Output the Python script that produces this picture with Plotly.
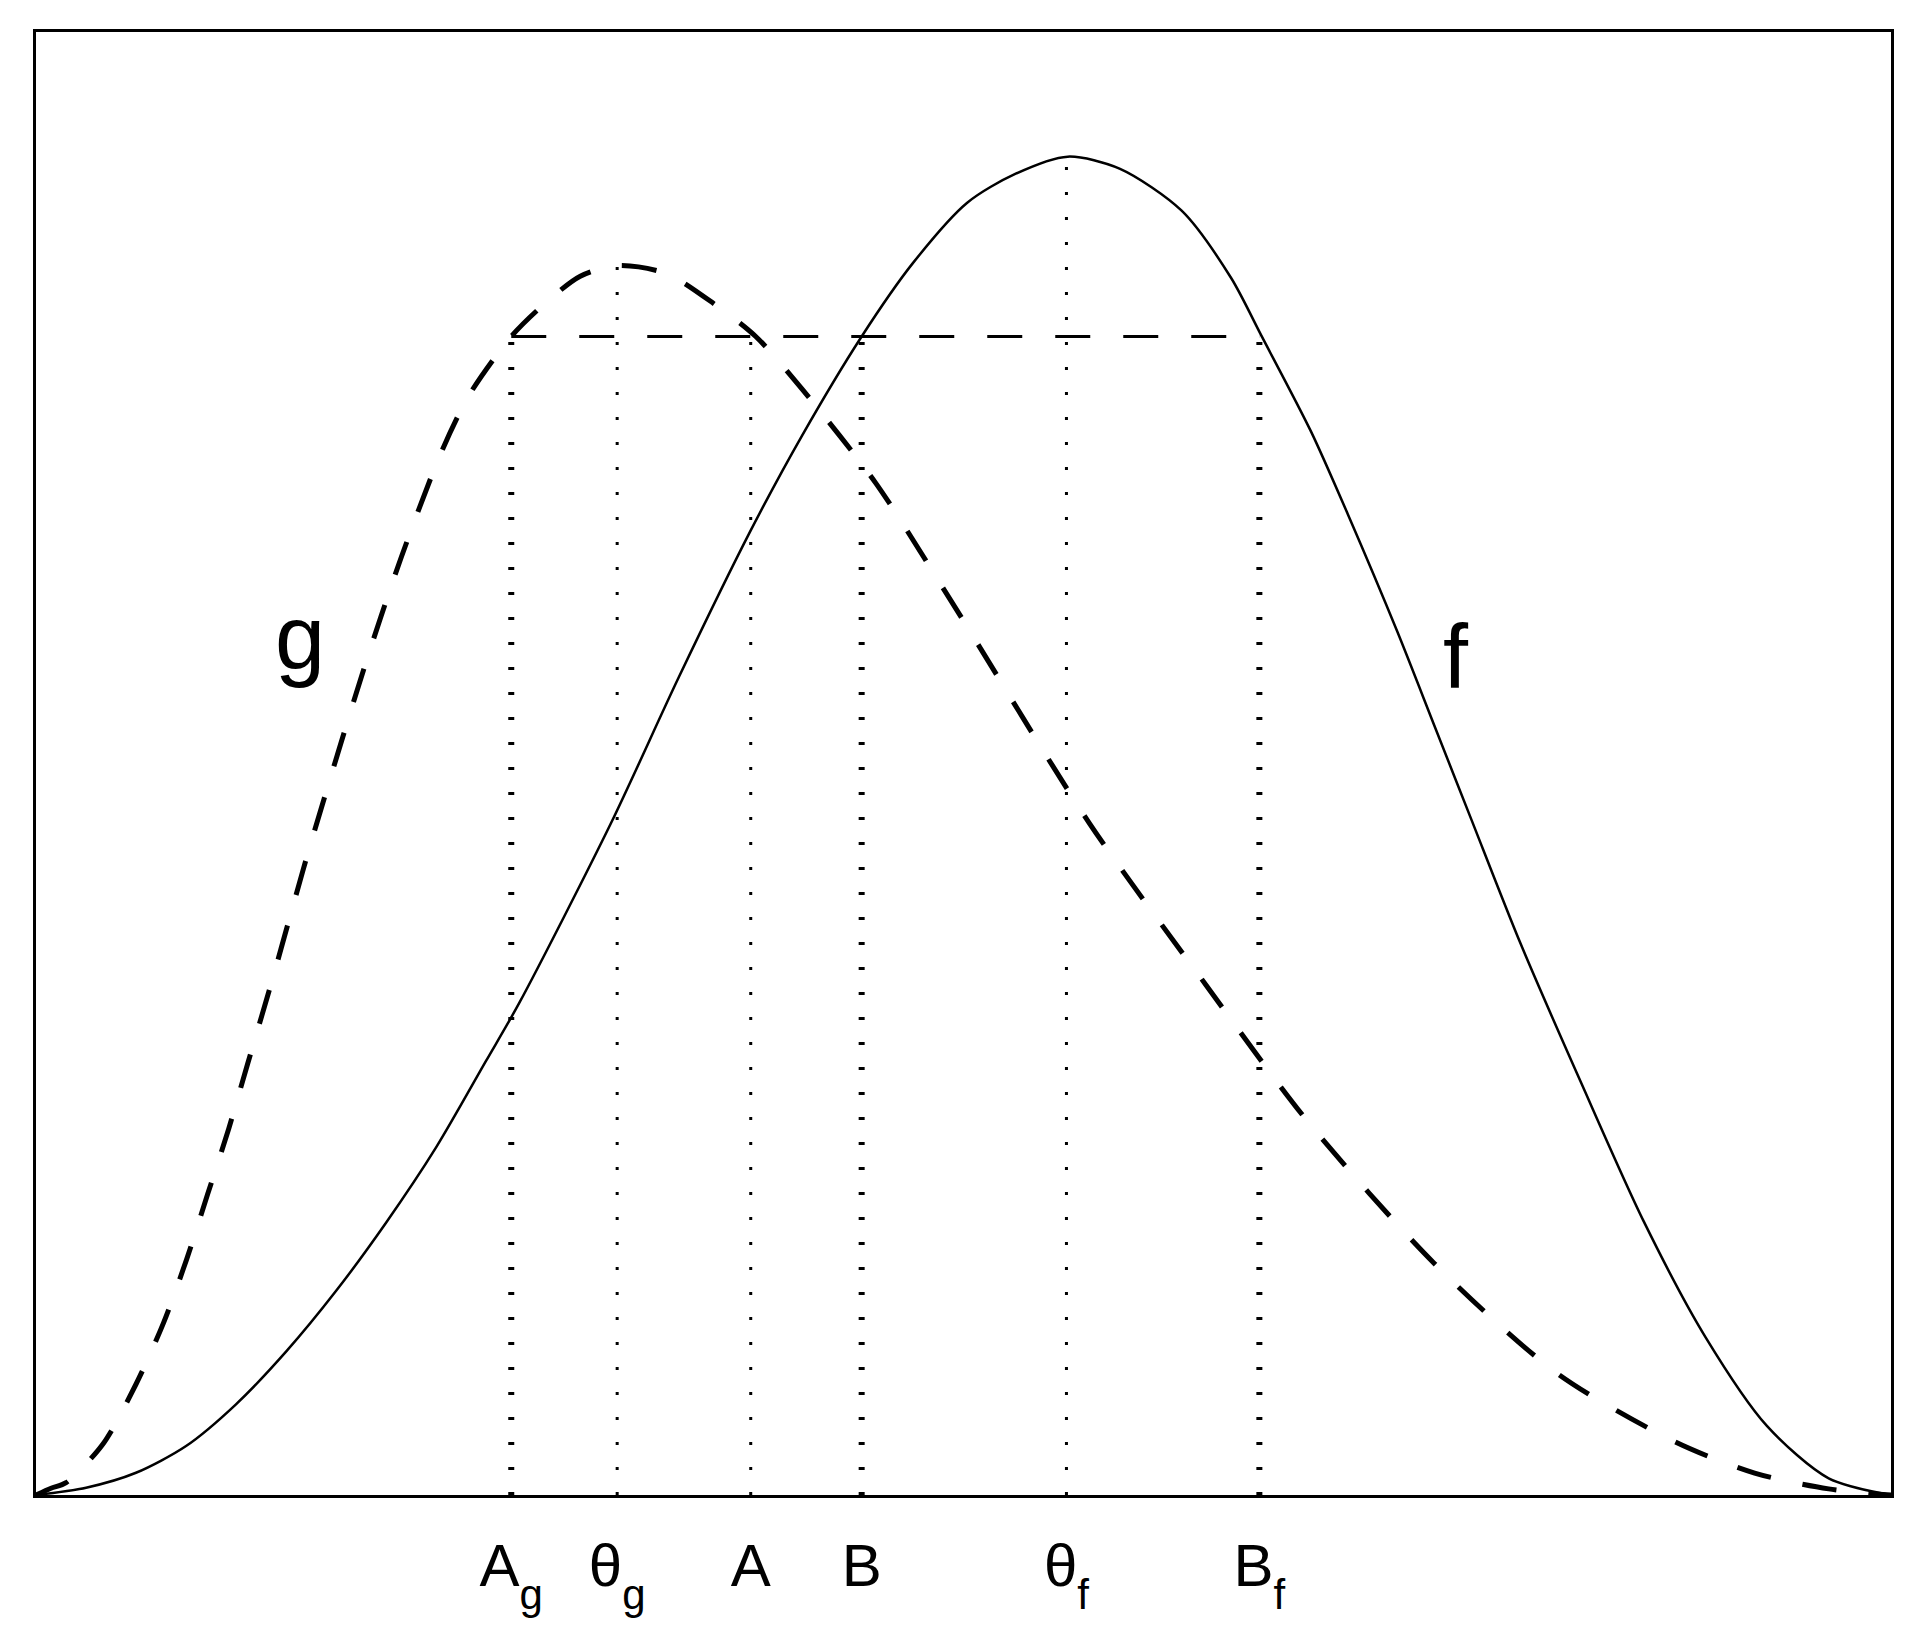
import plotly.graph_objects as go

# curves (x and y both scaled 0..1 over the axes box)
f_x = [0.0, 0.027, 0.0539, 0.0809, 0.1078, 0.1348, 0.1617, 0.1887, 0.2156, 0.2426,
       0.2606, 0.31, 0.3465, 0.3853, 0.4129, 0.4451, 0.4727, 0.502, 0.5279, 0.5562,
       0.5844, 0.6176, 0.6442, 0.6608, 0.6873, 0.7073, 0.7339, 0.7538, 0.7737, 0.8003,
       0.8335, 0.8667, 0.8999, 0.9331, 0.9664, 1.0]
f_y = [0.0, 0.005, 0.0152, 0.0335, 0.062, 0.098, 0.1394, 0.1861, 0.2374, 0.2967,
       0.3365, 0.4593, 0.5589, 0.6593, 0.724, 0.7919, 0.842, 0.8833, 0.903, 0.9148,
       0.9065, 0.8779, 0.832, 0.7919, 0.727, 0.670, 0.590, 0.526, 0.462, 0.3769,
       0.2802, 0.187, 0.1081, 0.0472, 0.0114, 0.0]

g_x = [0.0, 0.0081, 0.0162, 0.036, 0.0539, 0.0688, 0.0812, 0.0925, 0.1039, 0.1141,
       0.1273, 0.1372, 0.1472, 0.1771, 0.197, 0.2186, 0.2336, 0.2562, 0.2734, 0.2934,
       0.3133, 0.3398, 0.3664, 0.388, 0.4129, 0.4528, 0.4943, 0.5678, 0.6309, 0.6857,
       0.7538, 0.8202, 0.8834, 0.9265, 0.9664, 1.0]
g_y = [0.0, 0.0046, 0.0084, 0.0347, 0.0757, 0.1178, 0.1611, 0.2055, 0.2504, 0.2948,
       0.3518, 0.3966, 0.4414, 0.5661, 0.6413, 0.7131, 0.752, 0.7919, 0.8134, 0.8331,
       0.8403, 0.8349, 0.8134, 0.7919, 0.756, 0.6915, 0.6091, 0.4593, 0.3483, 0.2551,
       0.1583, 0.083, 0.0365, 0.015, 0.0042, 0.0]

# marked points on the x axis
sub = "<sub><span style='baseline-shift:-10px'>%s</span></sub>"
mark_labels = ["A" + sub % "g", "θ" + sub % "g", "A", "B", "θ" + sub % "f", "B" + sub % "f"]
mark_x = [0.2562, 0.3133, 0.3853, 0.4451, 0.5555, 0.6595]
mark_top = [0.7919, 0.8403, 0.7919, 0.7919, 0.9148, 0.7919]
mark_bold = [True, False, False, True, False, True]

level = 0.7919

fig = go.Figure()

# dotted verticals
for xv, top, bold in zip(mark_x, mark_top, mark_bold):
    fig.add_trace(go.Scatter(
        x=[xv, xv], y=[0, top], mode="lines",
        line=dict(color="black", width=6 if bold else 3, dash="3px,22px"),
        hoverinfo="skip"))

# horizontal level line
fig.add_trace(go.Scatter(
    x=[mark_x[0], mark_x[-1]], y=[level, level], mode="lines",
    line=dict(color="black", width=3, dash="35px,33px"), hoverinfo="skip"))

# g (dashed) and f (solid)
fig.add_trace(go.Scatter(x=g_x, y=g_y, mode="lines",
                         line=dict(color="black", width=5, dash="35px,32px",
                                   shape="spline", smoothing=0.8)))
fig.add_trace(go.Scatter(x=f_x, y=f_y, mode="lines",
                         line=dict(color="black", width=2.5,
                                   shape="spline", smoothing=0.8)))

fig.add_annotation(x=0.1423, y=0.586, text="g", showarrow=False,
                   font=dict(family="Liberation Sans", size=90, color="black"))
fig.add_annotation(x=0.7655, y=0.573, text="f", showarrow=False,
                   font=dict(family="Liberation Sans", size=90, color="black"))

# page body adds ~7px offset, so margins are trimmed to keep the box where it is in the reference
fig.update_layout(
    width=1931, height=1644, autosize=False,
    margin=dict(l=28, r=48, t=24, b=157),
    paper_bgcolor="white", plot_bgcolor="white",
    showlegend=False,
    font=dict(family="Liberation Sans", color="black"),
)
fig.update_xaxes(range=[0, 1], showgrid=False, zeroline=False,
                 showline=True, linewidth=3, linecolor="black", mirror=True,
                 tickmode="array", tickvals=mark_x, ticktext=mark_labels,
                 ticks="", ticklabelstandoff=16,
                 tickfont=dict(family="Liberation Sans", size=60, color="black"))
fig.update_yaxes(range=[0, 1], showgrid=False, zeroline=False,
                 showline=True, linewidth=3, linecolor="black", mirror=True,
                 showticklabels=False, ticks="")

fig.write_html("out.html")
